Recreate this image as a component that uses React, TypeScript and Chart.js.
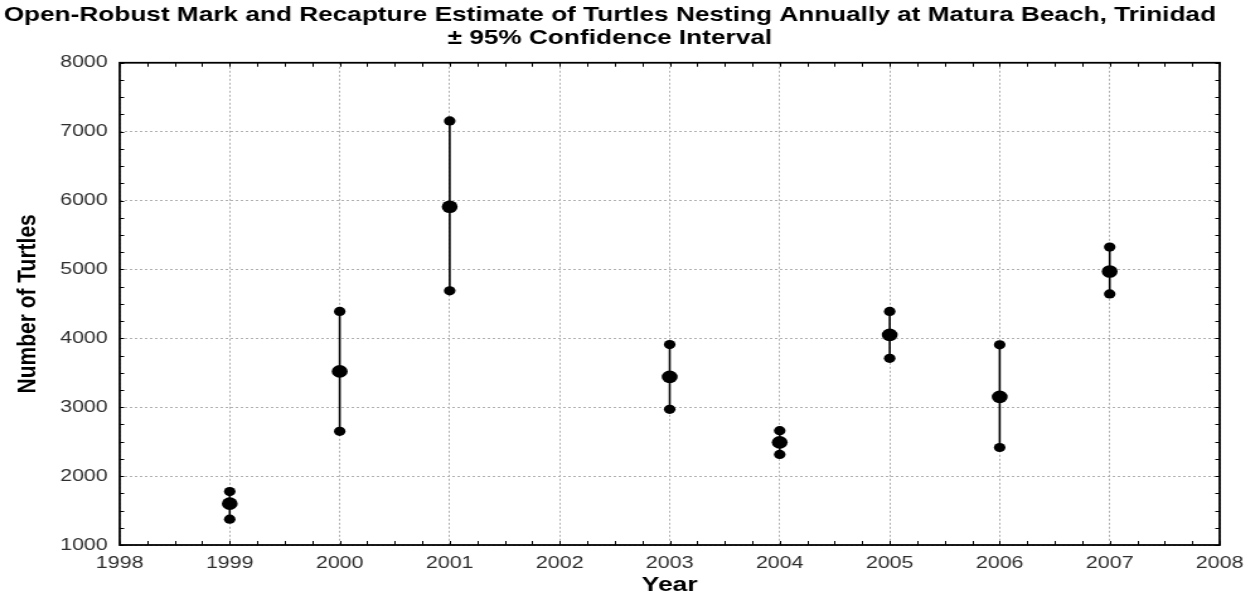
import React, { useEffect, useRef } from "react";
import { Chart, registerables } from "chart.js";

Chart.register(...registerables);

const years = [1999, 2000, 2001, 2003, 2004, 2005, 2006, 2007];
const estimate = [1600, 3520, 5910, 3440, 2490, 4050, 3150, 4970];
const lower95 = [1375, 2650, 4690, 2970, 2315, 3710, 2415, 4645];
const upper95 = [1775, 4390, 7155, 3910, 2660, 4390, 3905, 5325];

const xMin = 1998;
const xMax = 2008;
const yMin = 1000;
const yMax = 8000;

const titleLines = [
  "Open-Robust Mark and Recapture Estimate of Turtles Nesting Annually at Matura Beach, Trinidad",
  "\u00b1 95% Confidence Interval",
];
const xAxisTitle = "Year";
const yAxisTitle = "Number of Turtles";

const FONT = "'Liberation Sans', Arial, Helvetica, sans-serif";

const framePlugin = {
  id: "framePlugin",
  afterDraw(chart: any) {
    const { ctx, chartArea, scales } = chart;
    const { left, right, top, bottom } = chartArea;
    const xs = scales.x;
    const ys = scales.y;
    ctx.save();
    ctx.strokeStyle = "#000";
    ctx.lineWidth = 1;
    for (let v = xMin; v <= xMax + 1e-9; v += 0.25) {
      const px = Math.round(xs.getPixelForValue(v)) + 0.5;
      ctx.beginPath();
      ctx.moveTo(px, bottom);
      ctx.lineTo(px, bottom - 4);
      ctx.moveTo(px, top);
      ctx.lineTo(px, top + 4);
      ctx.stroke();
    }
    for (let v = yMin; v <= yMax + 1e-9; v += 250) {
      const py = Math.round(ys.getPixelForValue(v)) + 0.5;
      ctx.beginPath();
      ctx.moveTo(left, py);
      ctx.lineTo(left + 3.5, py);
      ctx.moveTo(right, py);
      ctx.lineTo(right - 3.5, py);
      ctx.stroke();
    }
    ctx.lineWidth = 1.8;
    ctx.strokeRect(left, top, right - left, bottom - top);
    ctx.restore();
  },
};

export default function App() {
  const canvasRef = useRef<HTMLCanvasElement | null>(null);

  useEffect(() => {
    const canvas = canvasRef.current;
    if (!canvas) return;

    const lineData: { x: number; y: number | null }[] = [];
    years.forEach((yr, i) => {
      lineData.push({ x: yr, y: lower95[i] });
      lineData.push({ x: yr, y: upper95[i] });
      lineData.push({ x: yr, y: null });
    });
    const endData = [
      ...years.map((yr, i) => ({ x: yr, y: upper95[i] })),
      ...years.map((yr, i) => ({ x: yr, y: lower95[i] })),
    ];
    const meanData = years.map((yr, i) => ({ x: yr, y: estimate[i] }));

    const chart = new Chart(canvas, {
      type: "scatter",
      data: {
        datasets: [
          {
            label: "CI",
            data: lineData,
            showLine: true,
            spanGaps: false,
            borderColor: "#000",
            borderWidth: 1.6,
            pointRadius: 0,
            order: 3,
          },
          {
            label: "Limits",
            data: endData,
            backgroundColor: "#000",
            borderColor: "#000",
            borderWidth: 0,
            pointRadius: 4.6,
            pointStyle: "circle",
            order: 2,
          },
          {
            label: "Estimate",
            data: meanData,
            backgroundColor: "#000",
            borderColor: "#000",
            borderWidth: 0,
            pointRadius: 6.3,
            pointStyle: "circle",
            order: 1,
          },
        ],
      },
      options: {
        responsive: false,
        animation: false,
        devicePixelRatio: 1,
        layout: { padding: { left: 0, right: 32, top: 0, bottom: 0 } },
        plugins: {
          legend: { display: false },
          tooltip: { enabled: false },
          title: {
            display: true,
            text: titleLines,
            color: "#000",
            font: { family: FONT, size: 20.8, weight: "bold", lineHeight: 1.1 },
            padding: { top: 4, bottom: 13 },
          },
        },
        scales: {
          x: {
            type: "linear",
            min: xMin,
            max: xMax,
            afterFit: (s: any) => {
              s.height = 49;
            },
            ticks: {
              stepSize: 1,
              color: "#2e2e2e",
              padding: 8,
              font: { family: FONT, size: 17 },
              callback: (v: any) => String(v),
            },
            grid: { color: "#b0b0b0", lineWidth: 1, drawTicks: false },
            border: { display: false, dash: [2, 2] },
            title: {
              display: true,
              text: xAxisTitle,
              color: "#000",
              font: { family: FONT, size: 21, weight: "bold", lineHeight: 0.8 },
              padding: { top: 0, bottom: 0 },
            },
          },
          y: {
            type: "linear",
            min: yMin,
            max: yMax,
            afterFit: (s: any) => {
              s.width = 95;
            },
            ticks: {
              stepSize: 1000,
              color: "#2e2e2e",
              padding: 9.5,
              font: { family: FONT, size: 17 },
              callback: (v: any) => String(v),
            },
            grid: { color: "#b0b0b0", lineWidth: 1, drawTicks: false },
            border: { display: false, dash: [2, 2] },
            title: {
              display: true,
              text: yAxisTitle,
              color: "#000",
              font: { family: FONT, size: 21, weight: "bold", lineHeight: 1.2 },
              padding: { top: 9.4, bottom: 0 },
            },
          },
        },
      },
      plugins: [framePlugin],
    });

    return () => {
      chart.destroy();
    };
  }, []);

  return (
    <div
      style={{
        position: "fixed",
        left: 0,
        top: 0,
        width: 1260,
        height: 594,
        background: "#fff",
      }}
    >
      <canvas
        ref={canvasRef}
        width={1000}
        height={594}
        style={{ width: "1260px", height: "594px", display: "block" }}
      />
    </div>
  );
}
